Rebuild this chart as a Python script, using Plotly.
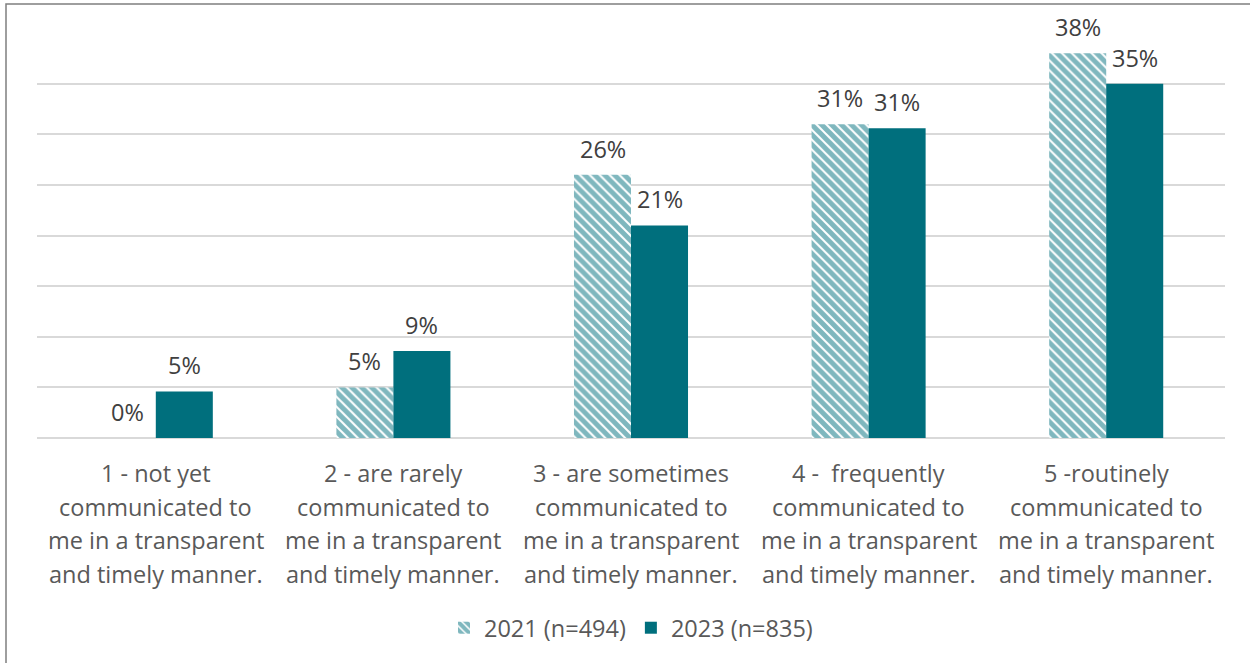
import plotly.graph_objects as go

categories = [
    "1 - not yet<br>communicated to<br>me in a transparent<br>and timely manner.",
    "2 - are rarely<br>communicated to<br>me in a transparent<br>and timely manner.",
    "3 - are sometimes<br>communicated to<br>me in a transparent<br>and timely manner.",
    "4 -\u00a0 frequently<br>communicated to<br>me in a transparent<br>and timely manner.",
    "5 -routinely<br>communicated to<br>me in a transparent<br>and timely manner.",
]
cat_keys = ["c1", "c2", "c3", "c4", "c5"]
values_2021 = [0.0, 5.0, 26.0, 31.0, 38.0]
values_2023 = [4.6, 8.6, 21.0, 30.6, 35.0]
series_names = ["2021 (n=494)", "2023 (n=835)"]

TEAL = "#006F7D"
TXT = "#404040"
TXT2 = "#595959"
FONT = "Open Sans"
FS = 23.5

fig = go.Figure()
fig.add_trace(go.Bar(
    x=cat_keys, y=values_2021, name=series_names[0],
    marker=dict(color="white", line=dict(width=0),
                pattern=dict(shape="\\", fgcolor=TEAL, bgcolor="white", size=7, solidity=0.72)),
))
fig.add_trace(go.Bar(
    x=cat_keys, y=values_2023, name=series_names[1],
    marker=dict(color=TEAL, line=dict(width=0)),
))

annotations = []
# data labels
for vals, shift in [(values_2021, -28.5), (values_2023, 28.5)]:
    for k, v in zip(cat_keys, vals):
        annotations.append(dict(
            x=k, y=v, xref="x", yref="y", text=f"{v:.0f}%", showarrow=False,
            xshift=shift, yshift=26, yanchor="middle", xanchor="center",
            font=dict(family=FONT, size=FS, color=TXT)))
# category labels, one annotation per line
for k, lab in zip(cat_keys, categories):
    for j, line in enumerate(lab.split("<br>")):
        annotations.append(dict(
            x=k, y=0, xref="x", yref="y", text=line, showarrow=False,
            yshift=-(35 + 33.7 * j), yanchor="middle", xanchor="center",
            font=dict(family=FONT, size=FS, color=TXT2)))

fig.update_layout(
    width=1250, height=663,
    margin=dict(l=37, r=25, t=33, b=225),
    paper_bgcolor="white", plot_bgcolor="white",
    barmode="group", bargap=0.52, bargroupgap=0,
    font=dict(family=FONT, size=FS, color=TXT),
    xaxis=dict(showticklabels=False, showgrid=False, zeroline=False, showline=False, fixedrange=True),
    yaxis=dict(range=[0, 40], dtick=5, showticklabels=False, showgrid=True,
               gridcolor="#d9d9d9", gridwidth=2, zeroline=True, zerolinecolor="#d9d9d9",
               zerolinewidth=2, showline=False),
    legend=dict(orientation="h", x=0.5, xanchor="center", y=-0.469, yanchor="middle",
                font=dict(family=FONT, size=FS, color=TXT2), itemwidth=30,
                traceorder="normal"),
    annotations=annotations,
    shapes=[dict(type="rect", xref="paper", yref="paper",
                 x0=(6 - 37) / 1188, x1=(1260 - 37) / 1188,
                 y0=(438 - 670) / 405, y1=(438 - 4) / 405,
                 line=dict(color="#7f7f7f", width=1.5), fillcolor="rgba(0,0,0,0)", layer="below")],
)

fig.write_html("out.html")
